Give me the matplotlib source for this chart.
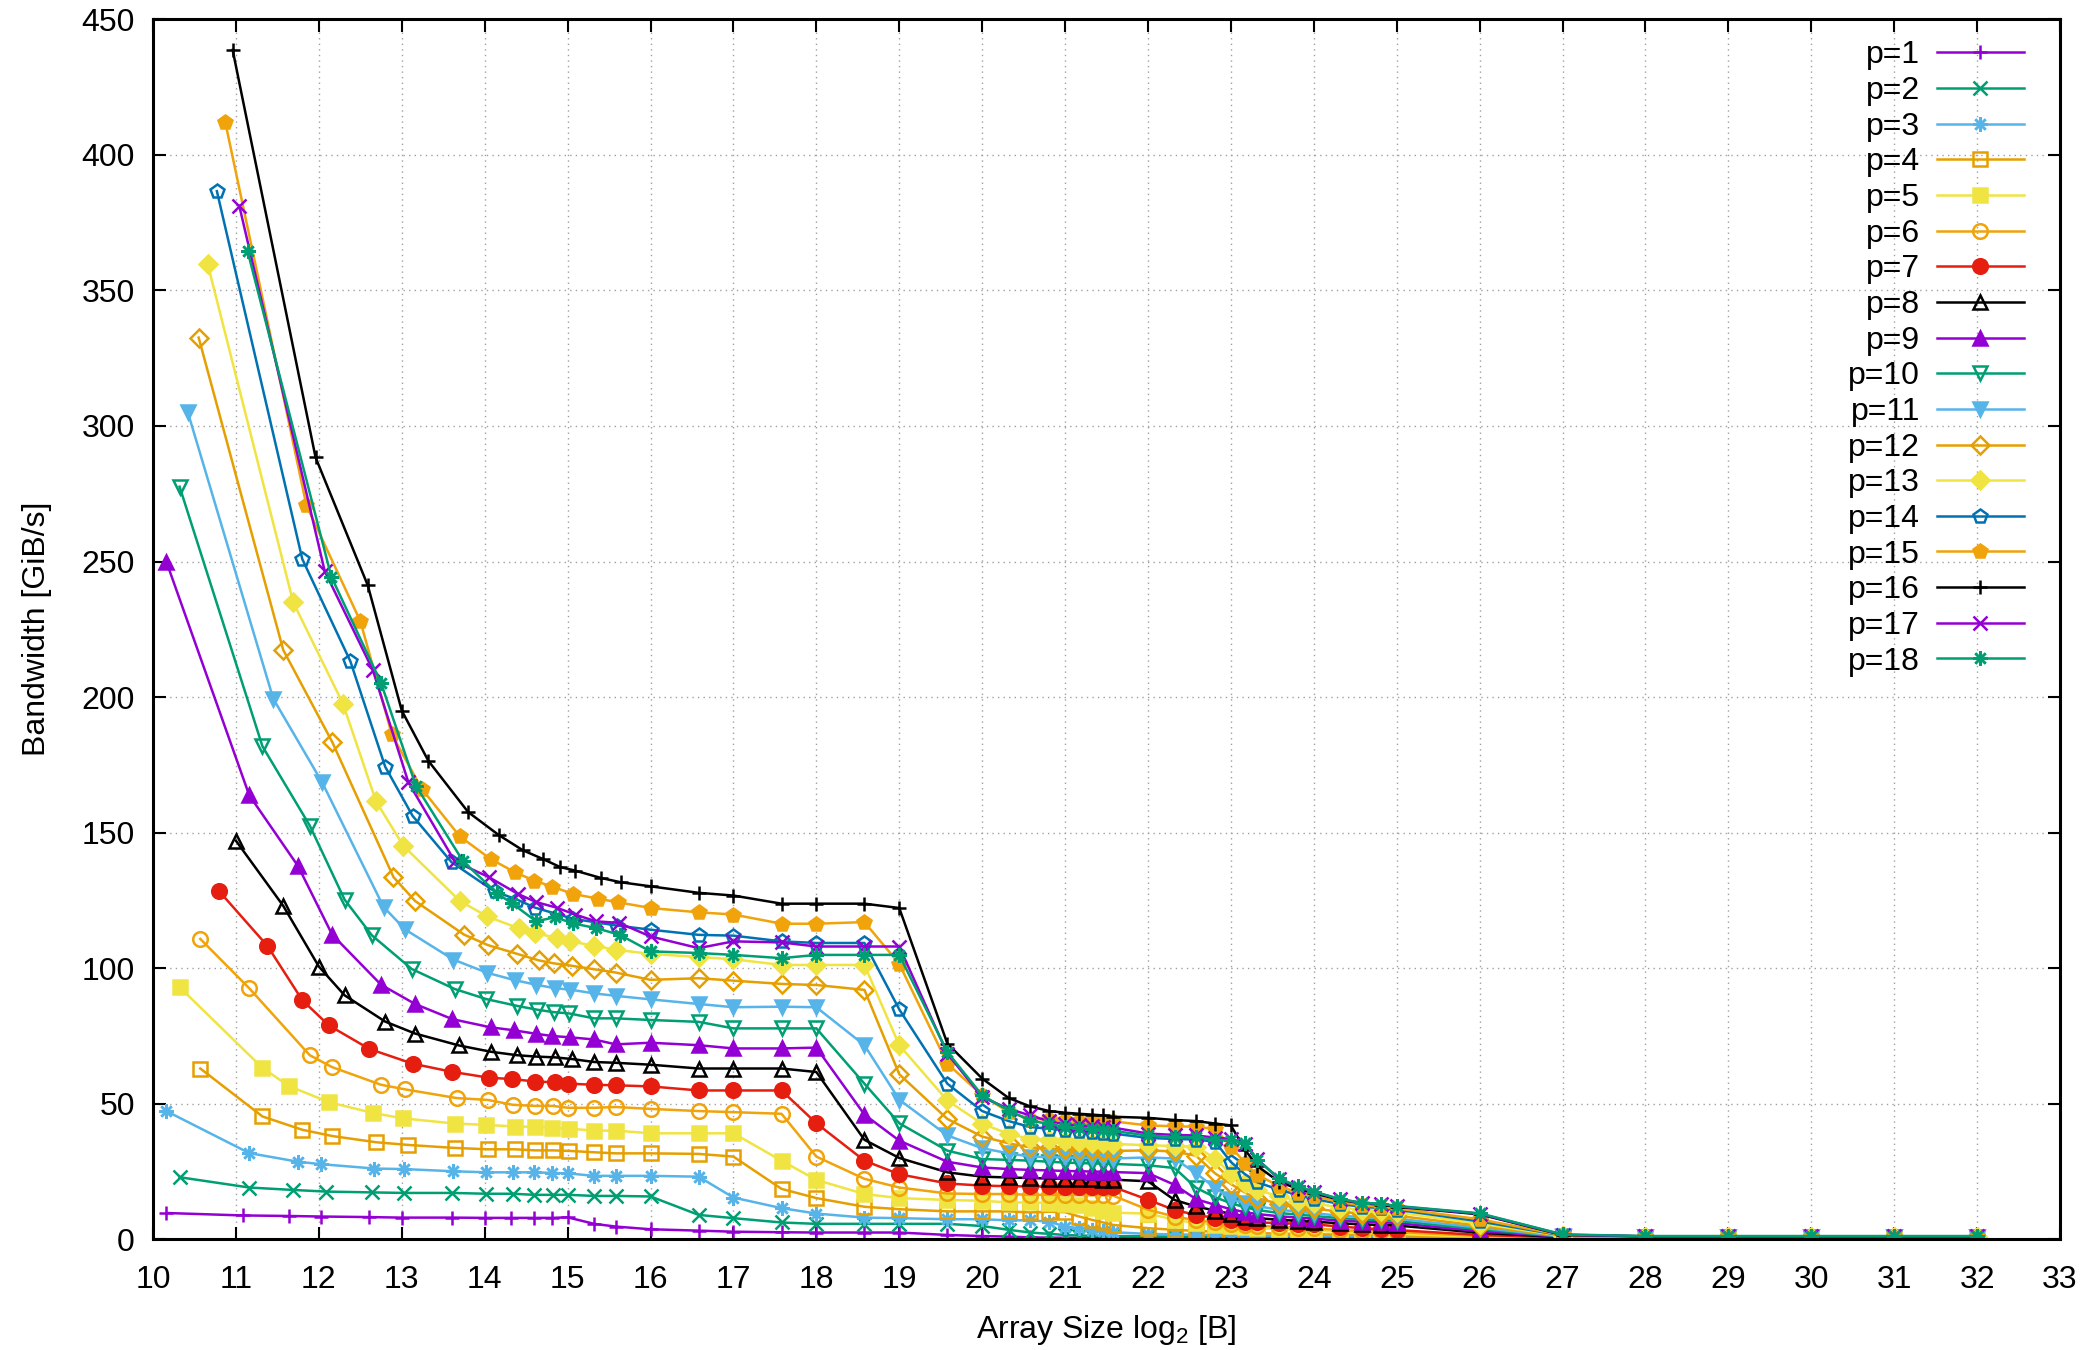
import matplotlib
matplotlib.use('Agg')
import matplotlib.pyplot as plt

plt.rcParams['font.family'] = ['Liberation Sans', 'DejaVu Sans']
plt.rcParams['mathtext.fontset'] = 'custom'
plt.rcParams['mathtext.rm'] = 'Liberation Sans'
plt.rcParams['mathtext.it'] = 'Liberation Sans:italic'

# 1. data
# all series share the sampling points from 2^16 B upwards
x_tail = [16, 16.58, 17, 17.58, 18, 18.58, 19, 19.58, 20, 20.32, 20.58, 20.81, 21, 21.17,
          21.32, 21.46, 21.58, 22, 22.32, 22.58, 22.81, 23, 23.17, 23.32, 23.58, 23.81, 24,
          24.32, 24.58, 24.81, 25, 26, 27, 28, 29, 30, 31, 32]

# x_pN - sampling points below 2^16 B (depend on p), y_pN - bandwidth for head + tail
x_p1 = [10.16, 11.08, 11.64, 12.03, 12.6, 13.0, 13.6, 14.0, 14.32, 14.6, 14.81, 15.0, 15.32, 15.58]
y_p1 = [9.7, 8.8, 8.6, 8.4, 8.2, 8.0, 8.0, 7.9, 7.9, 7.9, 7.9, 8.1, 5.7, 4.7,
        3.7, 3.2, 2.8, 2.6, 2.5, 2.5, 2.5, 1.6, 1.2, 1.0, 0.7, 0.6, 0.6, 0.5, 0.5, 0.5, 0.5,
        0.5, 0.5, 0.5, 0.5, 0.5, 0.5, 0.5, 0.5, 0.5, 0.5, 0.4, 0.4, 0.4, 0.4, 0.3, 0.3, 0.3,
        0.3, 0.3, 0.3, 0.3]

x_p2 = [10.32, 11.16, 11.69, 12.09, 12.64, 13.03, 13.61, 14.02, 14.34, 14.6, 14.82, 15.01, 15.32, 15.58]
y_p2 = [22.9, 19.1, 18.2, 17.6, 17.3, 17.1, 17.1, 16.8, 16.8, 16.4, 16.4, 16.4, 16.0, 16.0,
        15.8, 9.0, 7.8, 6.2, 5.7, 5.7, 5.7, 5.7, 4.9, 3.5, 2.5, 2.0, 1.6, 1.4, 1.3, 1.2, 1.2,
        1.1, 1.0, 1.0, 0.9, 0.9, 0.9, 0.9, 0.8, 0.8, 0.8, 0.8, 0.8, 0.8, 0.8, 0.4, 0.4, 0.4,
        0.4, 0.4, 0.4, 0.4]

x_p3 = [10.16, 11.16, 11.75, 12.03, 12.67, 13.03, 13.62, 14.02, 14.34, 14.6, 14.81, 15.01, 15.32, 15.58]
y_p3 = [47.3, 31.8, 28.6, 27.7, 26.1, 25.9, 25.1, 24.7, 24.7, 24.7, 24.5, 24.3, 23.4, 23.4,
        23.4, 23.1, 15.4, 11.5, 9.5, 8.0, 7.8, 7.4, 7.4, 7.0, 7.0, 6.5, 4.7, 4.1, 3.5, 3.0, 2.6,
        2.0, 1.8, 1.7, 1.6, 1.5, 1.4, 1.4, 1.3, 1.2, 1.2, 1.1, 1.1, 1.0, 1.0, 0.5, 0.4, 0.4,
        0.4, 0.4, 0.4, 0.4]

x_p4 = [10.57, 11.32, 11.80, 12.16, 12.69, 13.08, 13.64, 14.04, 14.36, 14.61, 14.82, 15.02, 15.32, 15.58]
y_p4 = [63.0, 45.3, 40.4, 38.1, 35.8, 34.8, 33.7, 33.2, 33.2, 32.8, 32.8, 32.6, 32.1, 31.7,
        31.7, 31.5, 30.5, 18.6, 15.2, 12.0, 11.1, 10.3, 10.3, 10.3, 9.9, 10.2, 10.0, 8.4, 7.2,
        6.2, 5.3, 4.1, 3.5, 3.1, 2.8, 2.6, 2.4, 2.3, 2.1, 2.0, 1.9, 1.7, 1.6, 1.6, 1.5, 0.7,
        0.5, 0.4, 0.4, 0.4, 0.4, 0.4]

x_p5 = [10.32, 11.32, 11.64, 12.12, 12.65, 13.02, 13.64, 14.02, 14.37, 14.61, 14.81, 15.02, 15.32, 15.58]
y_p5 = [93.0, 63.2, 56.5, 50.6, 46.6, 44.6, 42.7, 42.2, 41.6, 41.5, 41.1, 40.8, 40.1, 40.1,
        39.1, 39.1, 39.1, 29.0, 21.9, 16.7, 15.2, 14.5, 14.2, 13.6, 13.6, 13.4, 13.0, 12.5,
        11.5, 10.5, 9.8, 9.5, 7.2, 6.0, 5.2, 4.8, 4.4, 4.1, 3.7, 3.4, 3.2, 2.7, 2.4, 2.2, 2.0,
        0.9, 0.5, 0.4, 0.4, 0.4, 0.4, 0.4]

x_p6 = [10.57, 11.16, 11.89, 12.16, 12.75, 13.04, 13.66, 14.04, 14.34, 14.61, 14.82, 15.01, 15.32, 15.58]
y_p6 = [110.8, 92.6, 67.9, 63.5, 57.0, 55.3, 52.1, 51.4, 49.6, 49.2, 49.2, 48.5, 48.5, 48.8,
        48.1, 47.3, 46.9, 46.3, 30.5, 22.3, 19.1, 16.9, 16.7, 16.7, 16.4, 16.4, 16.3, 16.3,
        16.2, 16.2, 16.1, 10.9, 8.4, 7.0, 6.2, 5.8, 5.3, 5.0, 4.6, 4.2, 4.0, 3.4, 3.1, 2.9,
        2.7, 1.2, 0.6, 0.5, 0.5, 0.5, 0.5, 0.5]

x_p7 = [10.80, 11.38, 11.80, 12.12, 12.61, 13.13, 13.60, 14.05, 14.33, 14.61, 14.85, 15.01, 15.32, 15.58]
y_p7 = [128.3, 108.2, 88.2, 78.9, 70.2, 64.8, 61.8, 59.6, 59.1, 58.2, 57.9, 57.4, 57.0, 56.8,
        56.4, 54.9, 54.9, 54.9, 42.8, 29.0, 24.0, 20.6, 19.8, 19.6, 19.5, 19.5, 19.4, 19.4,
        19.3, 19.3, 19.3, 14.6, 10.8, 9.0, 7.9, 7.0, 6.4, 6.2, 6.0, 5.7, 5.5, 4.7, 4.1, 3.7,
        3.4, 1.6, 0.7, 0.6, 0.6, 0.6, 0.6, 0.6]

x_p8 = [11.0, 11.57, 12.0, 12.31, 12.80, 13.16, 13.69, 14.07, 14.39, 14.62, 14.85, 15.05, 15.32, 15.58]
y_p8 = [147.0, 123.0, 100.6, 90.0, 80.3, 75.9, 71.5, 69.2, 67.9, 67.4, 67.1, 66.5, 65.4, 65.1,
        64.4, 63.0, 63.0, 63.0, 61.7, 36.7, 30.0, 24.7, 23.1, 22.8, 22.6, 22.4, 22.3, 22.2,
        22.1, 22.0, 22.0, 21.4, 14.5, 12.1, 10.6, 9.4, 8.4, 7.8, 7.2, 6.8, 6.5, 5.9, 5.5, 5.3,
        5.1, 2.4, 0.8, 0.7, 0.7, 0.7, 0.7, 0.7]

x_p9 = [10.16, 11.16, 11.75, 12.16, 12.75, 13.16, 13.61, 14.07, 14.35, 14.62, 14.81, 15.03, 15.32, 15.58]
y_p9 = [250.0, 163.8, 137.6, 112.4, 93.9, 86.8, 81.2, 78.2, 77.1, 75.8, 75.0, 74.5, 73.7, 71.9,
        72.5, 71.6, 70.4, 70.4, 70.7, 46.0, 36.4, 28.6, 26.5, 25.9, 25.6, 25.4, 25.2, 25.1,
        25.0, 24.9, 24.8, 24.4, 20.1, 14.8, 12.7, 11.1, 10.0, 9.3, 8.5, 8.0, 7.6, 6.9, 6.5,
        6.3, 6.0, 3.0, 0.9, 0.7, 0.7, 0.7, 0.7, 0.7]

x_p10 = [10.32, 11.32, 11.89, 12.31, 12.64, 13.12, 13.64, 14.02, 14.39, 14.63, 14.83, 15.02, 15.32, 15.58]
y_p10 = [277.6, 181.8, 152.6, 125.3, 112.1, 99.7, 92.3, 88.6, 86.1, 84.7, 83.8, 83.3, 81.5, 81.5,
         80.9, 80.2, 77.8, 77.8, 77.8, 57.4, 42.8, 32.7, 29.6, 29.3, 29.0, 28.6, 28.3, 28.1,
         28.0, 27.9, 27.8, 27.3, 26.3, 19.0, 15.5, 13.3, 11.8, 10.8, 9.7, 9.1, 8.6, 7.8, 7.3,
         7.1, 6.8, 3.7, 1.0, 0.8, 0.8, 0.8, 0.8, 0.8]

x_p11 = [10.42, 11.45, 12.04, 12.78, 13.04, 13.62, 14.03, 14.36, 14.62, 14.85, 15.03, 15.32, 15.58]
y_p11 = [305.0, 199.4, 168.5, 122.6, 114.3, 103.2, 98.3, 95.6, 93.9, 92.6, 92.1, 90.7, 89.8,
         88.5, 86.8, 85.6, 85.8, 85.6, 71.6, 51.5, 38.3, 33.6, 31.7, 30.5, 30.3, 30.2, 30.1,
         30.0, 29.9, 29.8, 30.2, 29.8, 24.3, 19.0, 14.8, 13.3, 12.2, 10.9, 10.2, 9.6, 8.7, 8.2,
         7.9, 7.6, 4.3, 1.1, 0.8, 0.8, 0.8, 0.8, 0.8]

x_p12 = [10.55, 11.57, 12.16, 12.90, 13.16, 13.75, 14.04, 14.39, 14.65, 14.83, 15.05, 15.32, 15.58]
y_p12 = [332.6, 217.4, 183.5, 133.6, 124.8, 112.4, 108.5, 105.3, 102.9, 101.8, 100.9, 99.6, 98.4,
         95.7, 96.3, 95.4, 94.2, 93.8, 92.0, 60.9, 44.4, 37.9, 35.4, 33.9, 33.5, 33.2, 33.0,
         32.8, 32.7, 32.6, 32.8, 32.4, 30.8, 24.3, 20.4, 17.2, 15.0, 13.2, 12.2, 11.4, 10.1,
         9.5, 9.1, 8.7, 5.0, 1.2, 0.9, 0.9, 0.9, 0.9, 0.9]

x_p13 = [10.66, 11.69, 12.29, 12.69, 13.02, 13.70, 14.03, 14.41, 14.61, 14.87, 15.03, 15.32, 15.58]
y_p13 = [359.6, 235.0, 197.6, 161.5, 145.1, 124.8, 119.1, 114.7, 112.9, 111.2, 109.9, 108.3, 106.8,
         105.3, 104.1, 103.3, 101.2, 101.2, 101.2, 71.6, 51.2, 42.6, 38.9, 37.0, 36.5, 36.1,
         35.8, 35.6, 35.4, 35.2, 34.7, 34.4, 34.2, 29.8, 24.0, 20.6, 18.2, 15.8, 14.3, 13.3,
         11.7, 10.9, 10.4, 9.9, 5.8, 1.3, 0.9, 0.9, 0.9, 0.9, 0.9]

x_p14 = [10.77, 11.80, 12.38, 12.80, 13.13, 13.60, 14.12, 14.39, 14.61, 15.07, 15.6]
y_p14 = [386.6, 250.9, 213.2, 174.3, 156.2, 139.1, 128.3, 125.3, 122.3, 118.2, 115.7,
         114.2, 112.3, 112.0, 109.9, 109.3, 109.3, 84.8, 57.4, 47.3, 43.6, 41.4, 40.8, 40.2,
         39.8, 39.5, 39.2, 39.0, 37.4, 37.0, 36.8, 36.0, 28.5, 24.0, 21.0, 18.3, 16.3, 14.9,
         13.0, 12.0, 11.5, 10.9, 6.6, 1.4, 1.0, 1.0, 1.0, 1.0, 1.0]

x_p15 = [10.87, 11.85, 12.50, 12.88, 13.24, 13.70, 14.07, 14.37, 14.60, 14.81, 15.07, 15.37, 15.61]
y_p15 = [412.2, 270.7, 228.0, 186.2, 166.2, 148.6, 140.3, 135.3, 132.3, 130.1, 127.4, 125.6, 124.3,
         122.2, 120.6, 119.8, 116.4, 116.4, 117.0, 101.6, 64.8, 53.1, 46.9, 44.4, 44.2, 44.0,
         43.8, 43.7, 43.6, 43.5, 42.0, 41.7, 41.5, 40.7, 34.2, 28.1, 23.8, 19.6, 17.2, 15.9,
         13.7, 12.5, 12.0, 11.4, 7.4, 1.5, 1.0, 1.0, 1.0, 1.0, 1.0]

x_p16 = [10.96, 11.96, 12.59, 13.0, 13.32, 13.80, 14.17, 14.46, 14.70, 14.91, 15.09, 15.40, 15.64]
y_p16 = [438.7, 288.4, 241.2, 195.0, 176.5, 157.6, 149.1, 143.5, 140.3, 137.3, 136.0, 133.3, 131.7,
         130.2, 127.8, 126.8, 123.8, 123.8, 123.8, 122.2, 72.2, 59.3, 52.1, 49.0, 47.3, 46.7,
         46.3, 46.0, 45.7, 45.2, 44.8, 44.0, 43.6, 42.7, 42.0, 33.0, 27.0, 21.2, 18.6, 17.0,
         14.5, 13.3, 12.8, 12.0, 9.2, 1.6, 1.1, 1.1, 1.1, 1.1, 1.1]

x_p17 = [11.04, 12.07, 12.65, 13.08, 13.64, 14.05, 14.40, 14.62, 14.87, 15.09, 15.34, 15.62]
y_p17 = [381.2, 246.5, 210.0, 168.5, 139.4, 133.6, 127.4, 124.4, 122.3, 119.8, 117.3, 116.7,
         111.7, 107.4, 109.9, 109.5, 108.0, 108.0, 108.0, 68.5, 52.5, 48.1, 45.7, 43.5, 42.5,
         42.0, 41.7, 41.5, 41.2, 39.0, 38.5, 38.3, 37.5, 37.0, 35.3, 29.5, 22.3, 19.3, 17.5,
         14.7, 13.4, 13.0, 12.2, 9.4, 1.7, 1.1, 1.1, 1.1, 1.1, 1.1]

x_p18 = [11.14, 12.15, 12.75, 13.17, 13.74, 14.15, 14.33, 14.62, 14.85, 15.07, 15.34, 15.63]
y_p18 = [364.5, 244.4, 205.2, 167.3, 139.4, 127.6, 123.9, 117.3, 118.8, 116.5, 114.8, 112.3,
         106.2, 105.6, 104.9, 103.7, 104.9, 104.9, 104.9, 69.1, 53.1, 47.5, 43.8, 42.5, 41.5,
         41.0, 40.7, 40.2, 40.0, 38.3, 37.7, 37.7, 36.7, 36.5, 35.5, 29.3, 22.5, 19.5, 17.6,
         14.8, 13.5, 13.1, 12.3, 9.6, 1.8, 1.2, 1.2, 1.2, 1.2, 1.2]

heads = [x_p1, x_p2, x_p3, x_p4, x_p5, x_p6, x_p7, x_p8, x_p9,
         x_p10, x_p11, x_p12, x_p13, x_p14, x_p15, x_p16, x_p17, x_p18]
values = [y_p1, y_p2, y_p3, y_p4, y_p5, y_p6, y_p7, y_p8, y_p9,
          y_p10, y_p11, y_p12, y_p13, y_p14, y_p15, y_p16, y_p17, y_p18]
labels = ['p=%d' % (i + 1) for i in range(18)]

# 2. gnuplot like styles
colors = ['#9400d3', '#009e73', '#56b4e9', '#e69f00', '#f0e442', '#f0a30a', '#e51e10', '#000000',
          '#9400d3', '#009e73', '#56b4e9', '#e69f00', '#f0e442', '#0072b2', '#f0a30a', '#000000',
          '#9400d3', '#009e73']
markers = ['+', 'x', (8, 2, 0), 's', 's', 'o', 'o', '^', '^', 'v', 'v', 'D', 'D', 'p', 'p',
           '+', 'x', (8, 2, 0)]
hollow = [False, False, False, True, False, True, False, True, False, True, False, True, False,
          True, False, False, False, False]

fs = 23
fig = plt.figure(figsize=(20.88, 13.5), dpi=100)
ax = fig.add_axes([0.0733, 0.082, 0.9133, 0.9037])

for i in range(18):
    xs = heads[i] + x_tail
    ys = values[i]
    ms = 10.5 if markers[i] not in ('D', 'v', '^') else 9.5
    ax.plot(xs, ys, color=colors[i], lw=1.8, marker=markers[i], markersize=ms,
            markerfacecolor='none' if hollow[i] else colors[i], markeredgewidth=1.8,
            label=labels[i])

ax.set_xlim(10, 33)
ax.set_ylim(0, 450)
ax.set_xticks(range(10, 34))
ax.set_yticks(range(0, 451, 50))
ax.grid(True, color='#a0a0a0', linestyle=(0, (1, 3)), linewidth=1.0)
ax.set_axisbelow(True)
ax.tick_params(direction='in', length=9, width=1.5, top=True, right=True,
               labelsize=fs, color='black')
ax.tick_params(axis='x', pad=18.5)
ax.tick_params(axis='y', pad=13)
for s in ax.spines.values():
    s.set_linewidth(2.2)

ax.set_xlabel('Array Size log$_2$ [B]', fontsize=fs)
ax.set_ylabel('Bandwidth [GiB/s]', fontsize=fs)
ax.xaxis.set_label_coords(0.5, -0.0605)
ax.yaxis.set_label_coords(-0.0531, 0.5)

ax.legend(loc='upper right', bbox_to_anchor=(0.9693, 0.970), bbox_transform=fig.transFigure,
          frameon=False, fontsize=fs, markerfirst=False, numpoints=1, handlelength=2.72,
          handletextpad=0.53, labelspacing=0.177, borderpad=0, borderaxespad=0)

fig.savefig('out.png', dpi=100)
